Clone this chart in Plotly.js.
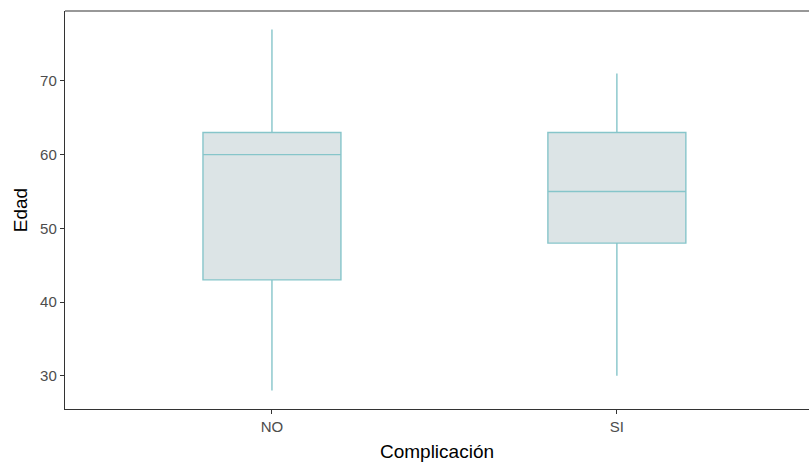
<!DOCTYPE html>
<html>
<head>
<meta charset="utf-8">
<script src="https://cdn.plot.ly/plotly-3.0.1.min.js"></script>
<style>html,body{margin:0;padding:0;overflow:hidden;background:#fff;}</style>
</head>
<body>
<div id="chart" style="width:809px;height:464px;"></div>
<script>
const categories = ["NO", "SI"];
const lowerWhisker = [28, 30];
const q1 = [43, 48];
const median = [60, 55];
const q3 = [63, 63];
const upperWhisker = [77, 71];

const trace = {
  type: "box",
  x: categories,
  q1: q1,
  median: median,
  q3: q3,
  lowerfence: lowerWhisker,
  upperfence: upperWhisker,
  width: 0.4,
  fillcolor: "#dce4e6",
  line: {color: "#86c5ca", width: 1.4},
  whiskerwidth: 0,
  boxpoints: false,
  hoverinfo: "skip",
  showlegend: false
};

const layout = {
  width: 809,
  height: 464,
  margin: {l: 65, r: 0, t: 11, b: 55},
  paper_bgcolor: "#fff",
  plot_bgcolor: "#fff",
  font: {family: "Liberation Sans, Arial, sans-serif"},
  xaxis: {
    type: "category",
    range: [-0.6, 1.557],
    showgrid: false,
    zeroline: false,
    showline: true,
    linecolor: "#333",
    linewidth: 1.2,
    ticks: "outside",
    ticklen: 4,
    tickcolor: "#333",
    tickfont: {size: 15, color: "#4d4d4d"},
    title: {text: "Complicación", font: {size: 19, color: "#000"}, standoff: 10}
  },
  yaxis: {
    range: [25.48, 79.5],
    tickvals: [30, 40, 50, 60, 70],
    showgrid: false,
    zeroline: false,
    showline: true,
    linecolor: "#333",
    linewidth: 1.2,
    ticks: "outside",
    ticklen: 4,
    tickcolor: "#333",
    tickfont: {size: 15, color: "#4d4d4d"},
    title: {text: "Edad", font: {size: 19, color: "#000"}, standoff: 7}
  },
  shapes: [{
    type: "line", xref: "paper", yref: "paper",
    x0: 0, x1: 1, y0: 1, y1: 1,
    line: {color: "#333", width: 1.2}
  }]
};

Plotly.newPlot("chart", [trace], layout, {displayModeBar: false, staticPlot: true});
</script>
</body>
</html>
